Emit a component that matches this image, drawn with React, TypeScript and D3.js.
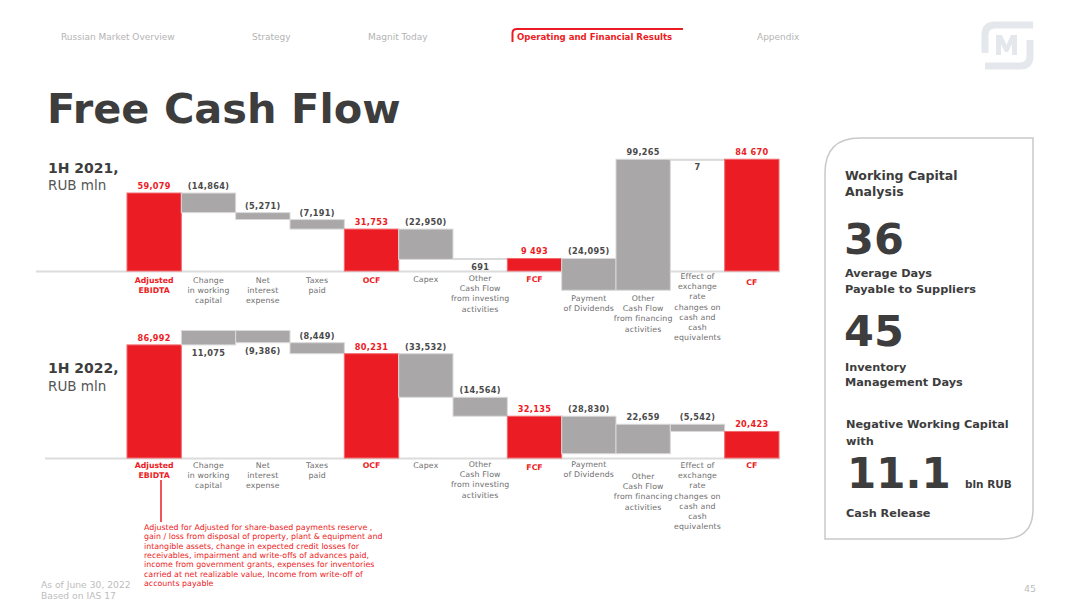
import React, { useEffect, useRef } from 'react';
import * as d3 from 'd3';

// categories of the waterfall, with line breaks as on the slide
const categoryLines: string[][] = [
  ['Adjusted', 'EBIDTA'],
  ['Change', 'in working', 'capital'],
  ['Net', 'interest', 'expense'],
  ['Taxes', 'paid'],
  ['OCF'],
  ['Capex'],
  ['Other', 'Cash Flow', 'from investing', 'activities'],
  ['FCF'],
  ['Payment', 'of Dividends'],
  ['Other', 'Cash Flow', 'from financing', 'activities'],
  ['Effect of', 'exchange', 'rate', 'changes on', 'cash and', 'cash', 'equivalents'],
  ['CF'],
];
const totalIdx = [0, 4, 7, 11];

const values2021 = [59079, -14864, -5271, -7191, 31753, -22950, 691, 9493, -24095, 99265, 7, 84670];
const values2022 = [86992, 11075, -9386, -8449, 80231, -33532, -14564, 32135, -28830, 22659, -5542, 20423];

const labels2021 = ['59,079', '(14,864)', '(5,271)', '(7,191)', '31,753', '(22,950)', '691', '9 493', '(24,095)', '99,265', '7', '84 670'];
const labels2022 = ['86,992', '11,075', '(9,386)', '(8,449)', '80,231', '(33,532)', '(14,564)', '32,135', '(28,830)', '22,659', '(5,542)', '20,423'];

// where value labels sit: a = above bar, b = below bar
const place2021 = ['a', 'a', 'a', 'a', 'a', 'a', 'b', 'a', 'a', 'a', 'b', 'a'];
const place2022 = ['a', 'b', 'b', 'a', 'a', 'a', 'a', 'a', 'a', 'a', 'a', 'a'];

// first baseline of each category label
const catTop2021 = [283, 283, 283, 283, 283, 282, 281, 282, 301, 301, 279, 285];
const catTop2022 = [468, 468, 468, 468, 468, 468, 467, 470, 467, 479, 468, 468];

const navItems = ['Russian Market Overview', 'Strategy', 'Magnit Today', 'Operating and Financial Results', 'Appendix'];
const navX = [61, 252, 368, 517, 757];

const footnote = [
  'Adjusted for Adjusted for share-based payments reserve ,',
  'gain / loss from disposal of property, plant & equipment and',
  'intangible assets, change in expected credit losses for',
  'receivables, impairment and write-offs of advances paid,',
  'income from government grants, expenses for inventories',
  'carried at net realizable value, Income from write-off of',
  'accounts payable',
];

const RED = '#ec1c24';
const GRAY = '#a9a7a7';
const FONT = 'DejaVu Sans, Verdana, sans-serif';

function drawWaterfall(g: any, values: number[], labels: string[], place: string[], catTop: number[], base: number, pxPerK: number) {
  const x = d3.scaleBand<number>().domain(d3.range(values.length)).range([127, 779]).padding(0);
  const y = d3.scaleLinear().domain([0, 100000]).range([base, base - pxPerK * 100]);

  // running sum for waterfall
  let run = 0;
  const bars = values.map((v, i) => {
    let s, e;
    if (totalIdx.includes(i)) {
      s = 0; e = v; run = v;
    } else {
      s = run; e = run + v; run = e;
    }
    return { i, s, e, total: totalIdx.includes(i) };
  });

  g.append('line')
    .attr('x1', base > 400 ? 45 : 36).attr('x2', 780)
    .attr('y1', base + 0.5).attr('y2', base + 0.5)
    .attr('stroke', '#dcdcdc').attr('stroke-width', 2);

  g.selectAll('.bar').data(bars).enter()
    .append('rect')
    .attr('class', 'bar')
    .attr('x', (d: any) => x(d.i))
    .attr('width', x.bandwidth())
    .attr('y', (d: any) => y(Math.max(d.s, d.e)))
    .attr('height', (d: any) => Math.max(1, Math.abs(y(d.s) - y(d.e))))
    .attr('fill', (d: any) => (d.total ? RED : GRAY))
    .attr('stroke', (d: any) => (d.total ? '#f06a6e' : '#dadada'))
    .attr('stroke-width', 1);

  g.selectAll('.val').data(bars).enter()
    .append('text')
    .attr('class', 'val')
    .attr('x', (d: any) => x(d.i)! + x.bandwidth() / 2)
    .attr('y', (d: any) => place[d.i] === 'a' ? y(Math.max(d.s, d.e)) - 4 : y(Math.min(d.s, d.e)) + 11)
    .attr('text-anchor', 'middle')
    .attr('font-family', FONT)
    .attr('font-weight', 'bold')
    .attr('font-size', 8.2)
    .attr('letter-spacing', 0.3)
    .attr('fill', (d: any) => (d.total ? RED : '#4a4a4a'))
    .text((d: any) => labels[d.i]);

  const cats = g.selectAll('.cat').data(bars).enter()
    .append('text')
    .attr('class', 'cat')
    .attr('text-anchor', 'middle')
    .attr('font-family', FONT)
    .attr('font-size', 7.8)
    .attr('font-weight', (d: any) => (d.total ? 'bold' : 'normal'))
    .attr('letter-spacing', (d: any) => (d.total ? 0 : 0.15))
    .attr('fill', (d: any) => (d.total ? RED : '#6e6e6e'));
  cats.each(function (this: any, d: any) {
    const t = d3.select(this);
    categoryLines[d.i].forEach((ln, k) => {
      t.append('tspan')
        .attr('x', x(d.i)! + x.bandwidth() / 2)
        .attr('y', catTop[d.i] + k * 10.2)
        .text(ln);
    });
  });
}

export default function App() {
  const ref = useRef<SVGGElement>(null);

  useEffect(() => {
    const root = d3.select(ref.current);
    root.selectAll('*').remove();
    drawWaterfall(root.append('g'), values2021, labels2021, place2021, catTop2021, 271, 1.32);
    drawWaterfall(root.append('g'), values2022, labels2022, place2022, catTop2022, 458, 1.3);
  }, []);

  const dark = '#3d3d3d';

  return (
    <svg width={1080} height={607} style={{ position: 'absolute', left: 0, top: 0, background: '#fff' }} fontFamily={FONT}>
      {/* nav */}
      {navItems.map((n, i) => (
        <text key={n} x={navX[i]} y={40} fontSize={i === 3 ? 8.6 : 9}
          fill={i === 3 ? RED : '#b4b4b4'} fontWeight={i === 3 ? 'bold' : 'normal'}>{n}</text>
      ))}
      <path d="M512.5 42 V33 Q512.5 29 517 29 H683" fill="none" stroke={RED} strokeWidth={2} />

      {/* logo */}
      <g stroke="#e4e7eb" strokeWidth={7} fill="none">
        <path d="M1033 25 H995 Q985 25 985 35 V53" />
        <path d="M985 66 H1020 Q1030 66 1030 56 V40" />
      </g>
      <path d="M996 55 V35 H1002 L1006.5 45 L1011 35 H1017 V55 H1012 V44 L1008 52 H1005 L1001 44 V55 Z" fill="#e4e7eb" />

      {/* title */}
      <text x={47} y={123} fontSize={41.5} fontWeight="bold" fill={dark}>Free Cash Flow</text>

      <text x={48} y={173} fontSize={14} fontWeight="bold" fill={dark}>1H 2021,</text>
      <text x={48} y={190} fontSize={13.5} fill="#555">RUB mln</text>
      <text x={48} y={373} fontSize={14} fontWeight="bold" fill={dark}>1H 2022,</text>
      <text x={48} y={391} fontSize={13.5} fill="#555">RUB mln</text>

      <g ref={ref} />

      {/* footnote */}
      <line x1={161} x2={161} y1={480} y2={522} stroke={RED} strokeWidth={1.5} />
      <text fontSize={7.9} fill={RED}>
        {footnote.map((l, i) => (
          <tspan key={i} x={144} y={530 + i * 9.35}>{l}</tspan>
        ))}
      </text>
      <text x={41} y={588} fontSize={9.2} fill="#bdbdbd">As of June 30, 2022</text>
      <text x={41} y={599} fontSize={9.2} fill="#bdbdbd">Based on IAS 17</text>
      <text x={1036} y={592} fontSize={9.5} fill="#bdbdbd" textAnchor="end">45</text>

      {/* right panel */}
      <path d="M825 173 Q825 138 860 138 H1033 V509 Q1033 539 1003 539 H825 Z" fill="none" stroke="#c9c9c9" strokeWidth={1.5} />
      <g fill={dark} fontWeight="bold">
        <text x={845} y={180} fontSize={12.5}>Working Capital</text>
        <text x={845} y={196} fontSize={12.5}>Analysis</text>
        <text x={844} y={254} fontSize={43}>36</text>
        <text x={845} y={277} fontSize={11.3}>Average Days</text>
        <text x={845} y={293} fontSize={11.3}>Payable to Suppliers</text>
        <text x={844} y={346} fontSize={43}>45</text>
        <text x={845} y={371} fontSize={11.3}>Inventory</text>
        <text x={845} y={386} fontSize={11.3}>Management Days</text>
        <text x={846} y={428} fontSize={11.3}>Negative Working Capital</text>
        <text x={846} y={445} fontSize={11.3}>with</text>
        <text x={847} y={488} fontSize={42}>11.1</text>
        <text x={965} y={488} fontSize={10.5}>bln RUB</text>
        <text x={846} y={517} fontSize={11.3}>Cash Release</text>
      </g>
    </svg>
  );
}
